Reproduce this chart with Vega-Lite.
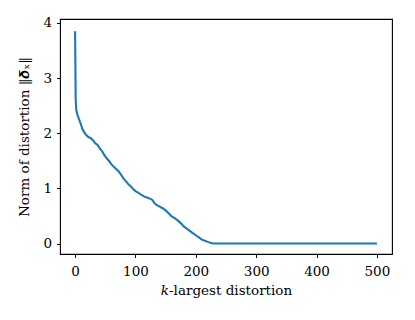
{
  "$schema": "https://vega.github.io/schema/vega-lite/v6.json",
  "width": 332,
  "height": 235,
  "autosize": {"type": "none"},
  "padding": {"left": 60, "top": 19, "right": 23, "bottom": 66},
  "background": "white",
  "config": {
    "view": {"stroke": "black", "strokeWidth": 1.1},
    "axis": {
      "grid": false,
      "domain": false,
      "tickColor": "black",
      "tickSize": 3.5,
      "tickWidth": 1,
      "labelFont": "DejaVu Serif",
      "labelFontSize": 13.5,
      "labelColor": "black",
      "titleFont": "DejaVu Serif",
      "titleFontSize": 13.5,
      "titleFontWeight": "normal",
      "titleColor": "black"
    }
  },
  "data": {
    "values": [
      {"k": 0, "norm": 3.85},
      {"k": 1, "norm": 2.6},
      {"k": 2, "norm": 2.42},
      {"k": 4, "norm": 2.33},
      {"k": 6, "norm": 2.27},
      {"k": 9, "norm": 2.18},
      {"k": 12, "norm": 2.08},
      {"k": 15, "norm": 2.02},
      {"k": 18, "norm": 1.97},
      {"k": 22, "norm": 1.93},
      {"k": 26, "norm": 1.91},
      {"k": 30, "norm": 1.87},
      {"k": 33, "norm": 1.82},
      {"k": 37, "norm": 1.79},
      {"k": 41, "norm": 1.72},
      {"k": 45, "norm": 1.67},
      {"k": 48, "norm": 1.61},
      {"k": 52, "norm": 1.55},
      {"k": 56, "norm": 1.5},
      {"k": 60, "norm": 1.44},
      {"k": 64, "norm": 1.39},
      {"k": 68, "norm": 1.35},
      {"k": 72, "norm": 1.31},
      {"k": 76, "norm": 1.25},
      {"k": 80, "norm": 1.18},
      {"k": 84, "norm": 1.13},
      {"k": 88, "norm": 1.08},
      {"k": 92, "norm": 1.04},
      {"k": 96, "norm": 0.99},
      {"k": 100, "norm": 0.95},
      {"k": 105, "norm": 0.92},
      {"k": 110, "norm": 0.88},
      {"k": 115, "norm": 0.85},
      {"k": 120, "norm": 0.83},
      {"k": 125, "norm": 0.81},
      {"k": 128, "norm": 0.79},
      {"k": 131, "norm": 0.74},
      {"k": 135, "norm": 0.7},
      {"k": 140, "norm": 0.67},
      {"k": 145, "norm": 0.64},
      {"k": 150, "norm": 0.6},
      {"k": 155, "norm": 0.55},
      {"k": 160, "norm": 0.49},
      {"k": 165, "norm": 0.46},
      {"k": 170, "norm": 0.42},
      {"k": 175, "norm": 0.37},
      {"k": 180, "norm": 0.31},
      {"k": 185, "norm": 0.27},
      {"k": 190, "norm": 0.23},
      {"k": 195, "norm": 0.19},
      {"k": 200, "norm": 0.15},
      {"k": 205, "norm": 0.11},
      {"k": 210, "norm": 0.07},
      {"k": 215, "norm": 0.05},
      {"k": 220, "norm": 0.03},
      {"k": 225, "norm": 0.01},
      {"k": 230, "norm": 0.0},
      {"k": 300, "norm": 0.0},
      {"k": 400, "norm": 0.0},
      {"k": 500, "norm": 0.0}
    ]
  },
  "mark": {"type": "line", "color": "#1f77b4", "strokeWidth": 2.1},
  "encoding": {
    "x": {
      "field": "k",
      "type": "quantitative",
      "scale": {"domain": [-25, 525], "nice": false, "zero": false},
      "axis": {"values": [0, 100, 200, 300, 400, 500], "title": "𝑘-largest distortion", "labelPadding": 7, "titlePadding": 5}
    },
    "y": {
      "field": "norm",
      "type": "quantitative",
      "scale": {"domain": [-0.19, 4.07], "nice": false, "zero": false},
      "axis": {"values": [0, 1, 2, 3, 4], "title": "Norm of distortion ‖𝜹ₓ‖", "labelPadding": 5, "titlePadding": 11}
    }
  }
}
